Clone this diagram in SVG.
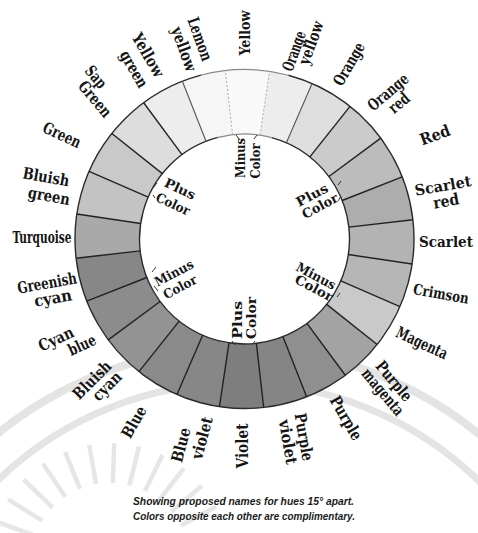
<svg xmlns="http://www.w3.org/2000/svg" width="478" height="533" viewBox="0 0 478 533">
<style>
.lbl{font-family:"DejaVu Serif Condensed","DejaVu Serif","Liberation Serif",serif;font-stretch:condensed;font-weight:bold;font-size:16px;fill:#151515;text-anchor:middle;dominant-baseline:central}
.in{font-size:13px}
.edge{font-size:15px}
.cap{font-family:"Liberation Sans",Arial,sans-serif;font-style:italic;font-weight:bold;font-size:10px;fill:#1a1a1a}
.seg{fill:none;stroke-width:64.5;stroke-dasharray:36.5 826}
.div{stroke:#222;stroke-width:1.4}
.wm{fill:none;stroke:#e4e4e4}
.tick{stroke:#333;stroke-width:1;fill:none}
</style>
<rect width="478" height="533" fill="#fff"/>
<g id="watermark">
<circle class="wm" cx="238" cy="728" r="380" stroke-width="8"/>
<circle class="wm" cx="238" cy="728" r="345" stroke-width="7"/>
<g stroke-width="4.5" stroke="#e6e6e6">
<line x1="34.8" y1="535.6" x2="-2.8" y2="522"/>
<line x1="42.2" y1="520.6" x2="8.2" y2="499.4"/>
<line x1="52.5" y1="507.4" x2="23.7" y2="479.6"/>
<line x1="65.3" y1="496.7" x2="42.9" y2="463.5"/>
<line x1="80" y1="488.8" x2="65" y2="451.8"/>
<line x1="96.1" y1="484.2" x2="89.2" y2="444.8"/>
<line x1="112.8" y1="483.1" x2="114.2" y2="443.1"/>
<line x1="129.4" y1="485.4" x2="139" y2="446.6"/>
<line x1="145" y1="491.1" x2="162.6" y2="455.1"/>
<line x1="159.3" y1="500" x2="183.9" y2="468.4"/>
<line x1="171.3" y1="511.6" x2="201.9" y2="485.8"/>
<line x1="180.6" y1="525.5" x2="216" y2="506.7"/>
</g>
</g>
<g id="ring">
<circle class="seg" cx="244.5" cy="239" r="137.25" stroke="#f9f9f9" transform="rotate(-96.5 244.5 239)"/>
<circle class="seg" cx="244.5" cy="239" r="137.25" stroke="#ededed" transform="rotate(-81.5 244.5 239)"/>
<circle class="seg" cx="244.5" cy="239" r="137.25" stroke="#dedede" transform="rotate(-66.5 244.5 239)"/>
<circle class="seg" cx="244.5" cy="239" r="137.25" stroke="#cbcbcb" transform="rotate(-51.5 244.5 239)"/>
<circle class="seg" cx="244.5" cy="239" r="137.25" stroke="#bcbcbc" transform="rotate(-36.5 244.5 239)"/>
<circle class="seg" cx="244.5" cy="239" r="137.25" stroke="#adadad" transform="rotate(-21.5 244.5 239)"/>
<circle class="seg" cx="244.5" cy="239" r="137.25" stroke="#b3b3b3" transform="rotate(-6.5 244.5 239)"/>
<circle class="seg" cx="244.5" cy="239" r="137.25" stroke="#b6b6b6" transform="rotate(8.5 244.5 239)"/>
<circle class="seg" cx="244.5" cy="239" r="137.25" stroke="#c9c9c9" transform="rotate(23.5 244.5 239)"/>
<circle class="seg" cx="244.5" cy="239" r="137.25" stroke="#a3a3a3" transform="rotate(38.5 244.5 239)"/>
<circle class="seg" cx="244.5" cy="239" r="137.25" stroke="#8f8f8f" transform="rotate(53.5 244.5 239)"/>
<circle class="seg" cx="244.5" cy="239" r="137.25" stroke="#858585" transform="rotate(68.5 244.5 239)"/>
<circle class="seg" cx="244.5" cy="239" r="137.25" stroke="#7e7e7e" transform="rotate(83.5 244.5 239)"/>
<circle class="seg" cx="244.5" cy="239" r="137.25" stroke="#878787" transform="rotate(98.5 244.5 239)"/>
<circle class="seg" cx="244.5" cy="239" r="137.25" stroke="#8a8a8a" transform="rotate(113.5 244.5 239)"/>
<circle class="seg" cx="244.5" cy="239" r="137.25" stroke="#939393" transform="rotate(128.5 244.5 239)"/>
<circle class="seg" cx="244.5" cy="239" r="137.25" stroke="#8c8c8c" transform="rotate(143.5 244.5 239)"/>
<circle class="seg" cx="244.5" cy="239" r="137.25" stroke="#878787" transform="rotate(158.5 244.5 239)"/>
<circle class="seg" cx="244.5" cy="239" r="137.25" stroke="#a9a9a9" transform="rotate(173.5 244.5 239)"/>
<circle class="seg" cx="244.5" cy="239" r="137.25" stroke="#c3c3c3" transform="rotate(188.5 244.5 239)"/>
<circle class="seg" cx="244.5" cy="239" r="137.25" stroke="#c9c9c9" transform="rotate(203.5 244.5 239)"/>
<circle class="seg" cx="244.5" cy="239" r="137.25" stroke="#dddddd" transform="rotate(218.5 244.5 239)"/>
<circle class="seg" cx="244.5" cy="239" r="137.25" stroke="#ededed" transform="rotate(233.5 244.5 239)"/>
<circle class="seg" cx="244.5" cy="239" r="137.25" stroke="#f6f6f6" transform="rotate(248.5 244.5 239)"/>
<circle cx="244.5" cy="239" r="105" fill="#fff"/>
<circle cx="244.5" cy="239" r="169.5" fill="none" stroke="#2b2b2b" stroke-width="1.4" stroke-dasharray="976.25 88.75" transform="rotate(-75 244.5 239)"/>
<circle cx="244.5" cy="239" r="169.5" fill="none" stroke="#8a8a8a" stroke-width="1.2" stroke-dasharray="88.75 976.25" transform="rotate(-105 244.5 239)"/>
<circle cx="244.5" cy="239" r="105" fill="none" stroke="#2b2b2b" stroke-width="1.4" stroke-dasharray="604.75 54.98" transform="rotate(-75 244.5 239)"/>
<circle cx="244.5" cy="239" r="105" fill="none" stroke="#8a8a8a" stroke-width="1.2" stroke-dasharray="54.98 604.75" transform="rotate(-105 244.5 239)"/>
</g>
<g id="dividers">
<line x1="244.5" y1="134" x2="244.5" y2="69.5" stroke="#aaa" stroke-width="1" stroke-dasharray="2 2" transform="rotate(8.5 244.5 239)"/>
<line x1="244.5" y1="134" x2="244.5" y2="69.5" stroke="#555" stroke-width="1.1" transform="rotate(23.5 244.5 239)"/>
<line class="div" x1="244.5" y1="134" x2="244.5" y2="69.5" transform="rotate(38.5 244.5 239)"/>
<line class="div" x1="244.5" y1="134" x2="244.5" y2="69.5" transform="rotate(53.5 244.5 239)"/>
<line class="div" x1="244.5" y1="134" x2="244.5" y2="69.5" transform="rotate(68.5 244.5 239)"/>
<line class="div" x1="244.5" y1="134" x2="244.5" y2="69.5" transform="rotate(83.5 244.5 239)"/>
<line class="div" x1="244.5" y1="134" x2="244.5" y2="69.5" transform="rotate(98.5 244.5 239)"/>
<line class="div" x1="244.5" y1="134" x2="244.5" y2="69.5" transform="rotate(113.5 244.5 239)"/>
<line class="div" x1="244.5" y1="134" x2="244.5" y2="69.5" transform="rotate(128.5 244.5 239)"/>
<line class="div" x1="244.5" y1="134" x2="244.5" y2="69.5" transform="rotate(143.5 244.5 239)"/>
<line class="div" x1="244.5" y1="134" x2="244.5" y2="69.5" transform="rotate(158.5 244.5 239)"/>
<line class="div" x1="244.5" y1="134" x2="244.5" y2="69.5" transform="rotate(173.5 244.5 239)"/>
<line class="div" x1="244.5" y1="134" x2="244.5" y2="69.5" transform="rotate(188.5 244.5 239)"/>
<line class="div" x1="244.5" y1="134" x2="244.5" y2="69.5" transform="rotate(203.5 244.5 239)"/>
<line class="div" x1="244.5" y1="134" x2="244.5" y2="69.5" transform="rotate(218.5 244.5 239)"/>
<line class="div" x1="244.5" y1="134" x2="244.5" y2="69.5" transform="rotate(233.5 244.5 239)"/>
<line class="div" x1="244.5" y1="134" x2="244.5" y2="69.5" transform="rotate(248.5 244.5 239)"/>
<line class="div" x1="244.5" y1="134" x2="244.5" y2="69.5" transform="rotate(263.5 244.5 239)"/>
<line class="div" x1="244.5" y1="134" x2="244.5" y2="69.5" transform="rotate(278.5 244.5 239)"/>
<line class="div" x1="244.5" y1="134" x2="244.5" y2="69.5" transform="rotate(293.5 244.5 239)"/>
<line class="div" x1="244.5" y1="134" x2="244.5" y2="69.5" transform="rotate(308.5 244.5 239)"/>
<line class="div" x1="244.5" y1="134" x2="244.5" y2="69.5" transform="rotate(323.5 244.5 239)"/>
<line x1="244.5" y1="134" x2="244.5" y2="69.5" stroke="#555" stroke-width="1.1" transform="rotate(338.5 244.5 239)"/>
<line x1="244.5" y1="134" x2="244.5" y2="69.5" stroke="#aaa" stroke-width="1" stroke-dasharray="2 2" transform="rotate(353.5 244.5 239)"/>
</g>
<g id="ticks">
<path class="tick" d="M236 135 l3 4 M254 139 l3 -4"/>
<path class="tick" d="M153 188 l4 -5 M153 195 l2 3"/>
<path class="tick" d="M338 185 l3 -4 M338 201 l3 -5"/>
<path class="tick" d="M337 297 l3 -4"/>
<path class="tick" d="M232 341 l3 4 M252 345 l3 -4"/>
<path class="tick" d="M152 272 l4 -5 M154 286 l4 5"/>
</g>
<g id="outer-labels">
<g id="lbl-yellow"><text class="lbl edge" transform="translate(245 33) rotate(-90)" textLength="45" lengthAdjust="spacingAndGlyphs">Yellow</text></g>
<g id="lbl-orange-yellow"><text class="lbl" transform="translate(294 51) rotate(-70)" textLength="41" lengthAdjust="spacingAndGlyphs">Orange</text><text class="lbl" transform="translate(311 43) rotate(-70)" textLength="45" lengthAdjust="spacingAndGlyphs">yellow</text></g>
<g id="lbl-orange"><text class="lbl" transform="translate(349 64) rotate(-60)" textLength="47" lengthAdjust="spacingAndGlyphs">Orange</text></g>
<g id="lbl-orange-red"><text class="lbl" transform="translate(388 92) rotate(-40)" textLength="48" lengthAdjust="spacingAndGlyphs">Orange</text><text class="lbl" transform="translate(399 103) rotate(-40)" textLength="22" lengthAdjust="spacingAndGlyphs">red</text></g>
<g id="lbl-red"><text class="lbl" transform="translate(435 135) rotate(-20)" textLength="31" lengthAdjust="spacingAndGlyphs">Red</text></g>
<g id="lbl-scarlet-red"><text class="lbl edge" transform="translate(443 186) rotate(-10)" textLength="57" lengthAdjust="spacingAndGlyphs">Scarlet</text><text class="lbl" transform="translate(446 201) rotate(-10)" textLength="26" lengthAdjust="spacingAndGlyphs">red</text></g>
<g id="lbl-scarlet"><text class="lbl edge" transform="translate(446 242)" textLength="54" lengthAdjust="spacingAndGlyphs">Scarlet</text></g>
<g id="lbl-crimson"><text class="lbl edge" transform="translate(441 294) rotate(10)" textLength="56" lengthAdjust="spacingAndGlyphs">Crimson</text></g>
<g id="lbl-magenta"><text class="lbl" transform="translate(422 343) rotate(25)" textLength="55" lengthAdjust="spacingAndGlyphs">Magenta</text></g>
<g id="lbl-purple-magenta"><text class="lbl" transform="translate(394 381) rotate(50)" textLength="47" lengthAdjust="spacingAndGlyphs">Purple</text><text class="lbl" transform="translate(383 392) rotate(50)" textLength="56" lengthAdjust="spacingAndGlyphs">magenta</text></g>
<g id="lbl-purple"><text class="lbl" transform="translate(346 418) rotate(60)" textLength="48" lengthAdjust="spacingAndGlyphs">Purple</text></g>
<g id="lbl-purple-violet"><text class="lbl" transform="translate(304 437) rotate(80)" textLength="48" lengthAdjust="spacingAndGlyphs">Purple</text><text class="lbl" transform="translate(288 442) rotate(80)" textLength="45" lengthAdjust="spacingAndGlyphs">violet</text></g>
<g id="lbl-violet"><text class="lbl" transform="translate(242 446) rotate(-90)" textLength="45" lengthAdjust="spacingAndGlyphs">Violet</text></g>
<g id="lbl-blue-violet"><text class="lbl" transform="translate(181 445) rotate(-75)" textLength="35" lengthAdjust="spacingAndGlyphs">Blue</text><text class="lbl" transform="translate(202 438) rotate(-75)" textLength="43" lengthAdjust="spacingAndGlyphs">violet</text></g>
<g id="lbl-blue"><text class="lbl" transform="translate(134 422) rotate(-60)" textLength="34" lengthAdjust="spacingAndGlyphs">Blue</text></g>
<g id="lbl-bluish-cyan"><text class="lbl" transform="translate(92 380) rotate(-45)" textLength="47" lengthAdjust="spacingAndGlyphs">Bluish</text><text class="lbl" transform="translate(107 386) rotate(-45)" textLength="34" lengthAdjust="spacingAndGlyphs">cyan</text></g>
<g id="lbl-cyan-blue"><text class="lbl" transform="translate(56 339) rotate(-25)" textLength="37" lengthAdjust="spacingAndGlyphs">Cyan</text><text class="lbl" transform="translate(82 345) rotate(-25)" textLength="29" lengthAdjust="spacingAndGlyphs">blue</text></g>
<g id="lbl-greenish-cyan"><text class="lbl" transform="translate(47 283) rotate(-10)" textLength="60" lengthAdjust="spacingAndGlyphs">Greenish</text><text class="lbl" transform="translate(53 298) rotate(-10)" textLength="38" lengthAdjust="spacingAndGlyphs">cyan</text></g>
<g id="lbl-turquoise"><text class="lbl" transform="translate(42 237)" textLength="59" lengthAdjust="spacingAndGlyphs">Turquoise</text></g>
<g id="lbl-bluish-green"><text class="lbl" transform="translate(46 177) rotate(10)" textLength="47" lengthAdjust="spacingAndGlyphs">Bluish</text><text class="lbl" transform="translate(49 196) rotate(10)" textLength="42" lengthAdjust="spacingAndGlyphs">green</text></g>
<g id="lbl-green"><text class="lbl" transform="translate(62 135) rotate(25)" textLength="40" lengthAdjust="spacingAndGlyphs">Green</text></g>
<g id="lbl-sap-green"><text class="lbl" transform="translate(96 77) rotate(50)" textLength="24" lengthAdjust="spacingAndGlyphs">Sap</text><text class="lbl" transform="translate(95 99) rotate(50)" textLength="42" lengthAdjust="spacingAndGlyphs">Green</text></g>
<g id="lbl-yellow-green"><text class="lbl" transform="translate(148 55) rotate(60)" textLength="48" lengthAdjust="spacingAndGlyphs">Yellow</text><text class="lbl" transform="translate(134 69) rotate(60)" textLength="40" lengthAdjust="spacingAndGlyphs">green</text></g>
<g id="lbl-lemon-yellow"><text class="lbl" transform="translate(200 39) rotate(70)" textLength="45" lengthAdjust="spacingAndGlyphs">Lemon</text><text class="lbl" transform="translate(184 49) rotate(70)" textLength="46" lengthAdjust="spacingAndGlyphs">yellow</text></g>
</g>
<g id="inner-labels">
<g id="in-top"><text class="lbl in" transform="translate(240 158) rotate(-90)" textLength="40" lengthAdjust="spacingAndGlyphs">Minus</text><text class="lbl in" transform="translate(255 161) rotate(-90)" textLength="35" lengthAdjust="spacingAndGlyphs">Color</text></g>
<g id="in-upper-left"><text class="lbl in" transform="translate(180 189) rotate(25)" textLength="33" lengthAdjust="spacingAndGlyphs">Plus</text><text class="lbl in" transform="translate(173 204) rotate(25)" textLength="36" lengthAdjust="spacingAndGlyphs">Color</text></g>
<g id="in-upper-right"><text class="lbl in" transform="translate(312 195) rotate(-28)" textLength="34" lengthAdjust="spacingAndGlyphs">Plus</text><text class="lbl in" transform="translate(320 206) rotate(-28)" textLength="39" lengthAdjust="spacingAndGlyphs">Color</text></g>
<g id="in-lower-right"><text class="lbl in" transform="translate(316 276) rotate(28)" textLength="43" lengthAdjust="spacingAndGlyphs">Minus</text><text class="lbl in" transform="translate(314 288) rotate(28)" textLength="41" lengthAdjust="spacingAndGlyphs">Color</text></g>
<g id="in-bottom"><text class="lbl in" transform="translate(237 320) rotate(-90)" textLength="38" lengthAdjust="spacingAndGlyphs">Plus</text><text class="lbl in" transform="translate(251 318) rotate(-90)" textLength="42" lengthAdjust="spacingAndGlyphs">Color</text></g>
<g id="in-lower-left"><text class="lbl in" transform="translate(174 273) rotate(-28)" textLength="42" lengthAdjust="spacingAndGlyphs">Minus</text><text class="lbl in" transform="translate(180 287) rotate(-28)" textLength="36" lengthAdjust="spacingAndGlyphs">Color</text></g>
</g>
<g id="caption">
<text class="cap" x="133" y="505" textLength="221" lengthAdjust="spacingAndGlyphs">Showing proposed names for hues 15° apart.</text>
<text class="cap" x="133" y="520" textLength="222" lengthAdjust="spacingAndGlyphs">Colors opposite each other are complimentary.</text>
</g>
</svg>
